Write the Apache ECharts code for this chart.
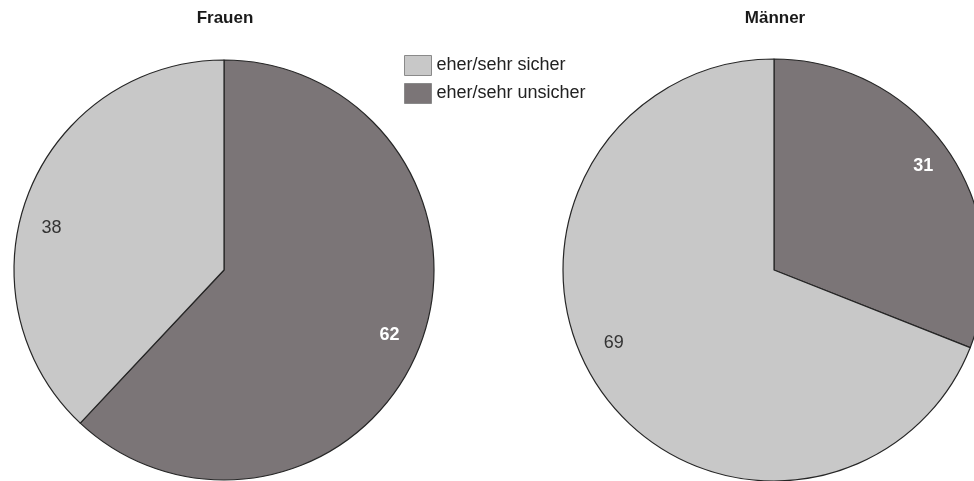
<!DOCTYPE html>
<html>
<head>
<meta charset="utf-8">
<script src="https://cdn.jsdelivr.net/npm/echarts@6/dist/echarts.min.js"></script>
<style>
html,body{margin:0;padding:0;background:#fff;}
#chart{width:974px;height:481px;}
</style>
</head>
<body>
<div id="chart"></div>
<script>
// Data
const categories = ['eher/sehr unsicher', 'eher/sehr sicher'];
const legendOrder = ['eher/sehr sicher', 'eher/sehr unsicher'];
const groups = ['Frauen', 'Männer'];
const frauenValues = [62, 38];
const maennerValues = [31, 69];

const DARK = '#7b7577';
const LIGHT = '#c8c8c8';
const FONT = '"Liberation Sans", Arial, Helvetica, sans-serif';

function toData(values) {
  return categories.map((c, i) => ({
    name: c,
    value: values[i],
    itemStyle: { color: i === 0 ? DARK : LIGHT }
  }));
}

function labelData(values) {
  return categories.map((c, i) => ({
    name: c,
    value: values[i],
    label: i === 0
      ? { color: '#ffffff', fontWeight: 'bold' }
      : { color: '#333333', fontWeight: 'normal' }
  }));
}

const LABEL_R = 178;
const pies = [
  { center: [224, 270], radius: 210, values: frauenValues, nudge: [[0, 0], [-7, 24]] },
  { center: [774, 270], radius: 211, values: maennerValues, nudge: [[2, -4], [-13, -27]] }
];

const series = [];
pies.forEach((p) => {
  series.push({
    type: 'pie',
    center: p.center,
    radius: p.radius,
    startAngle: 90,
    clockwise: true,
    label: { show: false },
    labelLine: { show: false },
    itemStyle: { borderColor: '#262626', borderWidth: 1.2 },
    emphasis: { disabled: true },
    data: toData(p.values)
  });
});
pies.forEach((p) => {
  series.push({
    type: 'pie',
    center: p.center,
    radius: [2 * LABEL_R - 6 - p.radius, p.radius],
    startAngle: 90,
    clockwise: true,
    silent: true,
    itemStyle: { color: 'rgba(0,0,0,0)', borderWidth: 0 },
    label: { show: true, position: 'inside', formatter: '{c}', fontSize: 18, fontFamily: FONT },
    labelLine: { show: false },
    emphasis: { disabled: true },
    labelLayout: function (params) {
      const n = p.nudge[params.dataIndex];
      return { dx: n[0], dy: n[1] };
    },
    data: labelData(p.values)
  });
});

const chart = echarts.init(document.getElementById('chart'));
chart.setOption({
  animation: false,
  backgroundColor: '#ffffff',
  title: groups.map((g, i) => ({
    text: g,
    left: pies[i].center[0] + 1,
    top: 10,
    padding: 0,
    textAlign: 'center',
    textStyle: { fontSize: 17, fontWeight: 'bold', color: '#1a1a1a', fontFamily: FONT }
  })),
  legend: {
    orient: 'vertical',
    left: 404,
    top: 55,
    padding: 0,
    itemWidth: 27,
    itemHeight: 20,
    itemGap: 7,
    icon: 'rect',
    selectedMode: false,
    data: legendOrder,
    itemStyle: { borderColor: '#8a8a8a', borderWidth: 1 },
    textStyle: { fontSize: 18, color: '#222222', fontFamily: FONT }
  },
  series: series
});
</script>
</body>
</html>
